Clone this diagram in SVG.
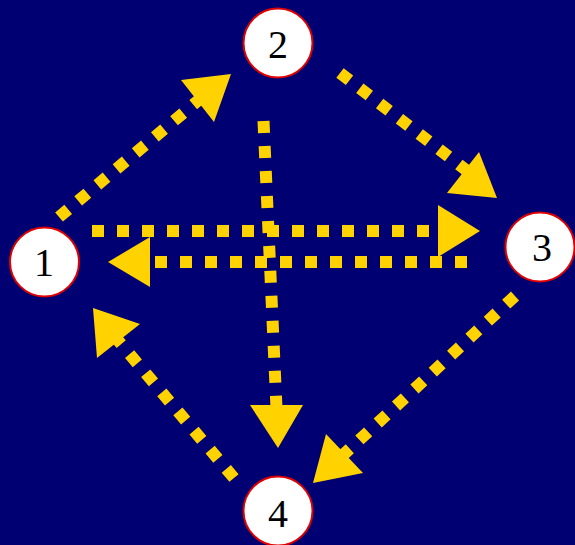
<svg xmlns="http://www.w3.org/2000/svg" width="575" height="545" viewBox="0 0 575 545">
<style>
.bg{fill:#000073}
.node circle{fill:#fff;stroke:#e00000;stroke-width:2}
.node text{font-family:"Liberation Serif","Times New Roman",serif;font-size:40px;fill:#000;text-anchor:middle}
.edge{stroke:#FFD200;stroke-width:12;stroke-dasharray:12 13;fill:none;stroke-linecap:butt}
.head{fill:#FFD200}
</style>
<rect class="bg" x="0" y="0" width="575" height="545"/>
<g id="connectors">
<line class="edge" x1="59" y1="217" x2="200" y2="99"/>
<polygon class="head" points="231,74 181,80 214,122"/>
<line class="edge" x1="340" y1="73" x2="466" y2="170"/>
<polygon class="head" points="497,198 479,152 447,193"/>
<line class="edge" x1="92" y1="231" x2="440" y2="231"/>
<polygon class="head" points="480,231 438,205 438,257"/>
<line class="edge" x1="467" y1="262" x2="148" y2="262"/>
<polygon class="head" points="108,262 150,237 150,287"/>
<line class="edge" x1="263.5" y1="121" x2="276.5" y2="408"/>
<polygon class="head" points="278,448 250,405 303,405"/>
<line class="edge" x1="515" y1="296" x2="342" y2="456"/>
<polygon class="head" points="313,483 326,434 363,473"/>
<line class="edge" x1="234" y1="478" x2="116" y2="338"/>
<polygon class="head" points="93,308 140,324 97,358"/>
</g>
<g id="node1" class="node"><circle cx="44.5" cy="262" r="34.5"/><text x="44" y="276">1</text></g>
<g id="node2" class="node"><circle cx="278" cy="43" r="34.5"/><text x="278" y="58">2</text></g>
<g id="node3" class="node"><circle cx="540" cy="247" r="34.5"/><text x="542" y="261">3</text></g>
<g id="node4" class="node"><circle cx="278" cy="511" r="34.5"/><text x="278" y="527">4</text></g>
</svg>
